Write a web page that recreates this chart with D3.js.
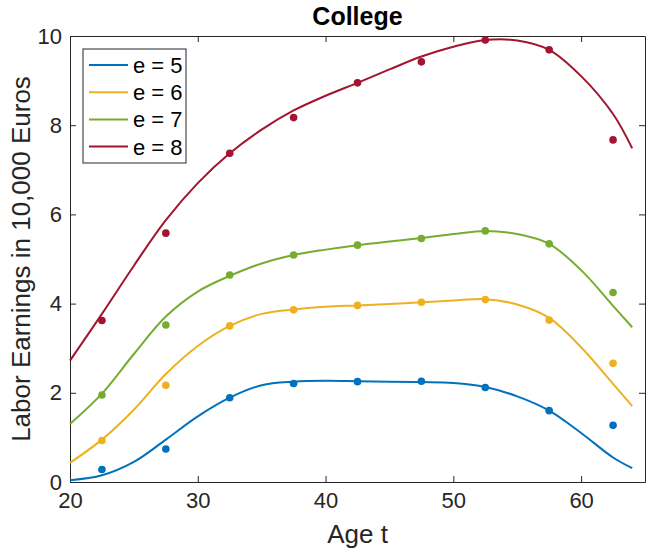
<!DOCTYPE html>
<html>
<head>
<meta charset="utf-8">
<script src="https://cdn.jsdelivr.net/npm/d3@7"></script>
<style>
  body { margin: 0; background: #fff; }
  svg { font-family: "Liberation Sans", Arial, Helvetica, sans-serif; }
</style>
</head>
<body>
<svg id="chart" width="649" height="550"></svg>
<script>
// ─── Datos ────────────────────────────────────────────────────────────────────

const SERIES = ['e = 5', 'e = 6', 'e = 7', 'e = 8'];
const COLORS = ['#0072BD', '#EDB120', '#77AC30', '#A2142F'];

// Puntos observados (edad media de cada tramo de 5 años)
const DOT_AGES = [22.5, 27.5, 32.5, 37.5, 42.5, 47.5, 52.5, 57.5, 62.5];
const DOTS_E5 = [0.28, 0.74, 1.89, 2.21, 2.25, 2.26, 2.12, 1.60, 1.27];
const DOTS_E6 = [0.93, 2.17, 3.50, 3.86, 3.96, 4.03, 4.09, 3.63, 2.66];
const DOTS_E7 = [1.95, 3.52, 4.64, 5.09, 5.31, 5.46, 5.63, 5.34, 4.25];
const DOTS_E8 = [3.62, 5.58, 7.37, 8.17, 8.95, 9.42, 9.91, 9.69, 7.67];

// Curvas ajustadas
const FIT_AGES = [20, 22.5, 25, 27.5, 30, 32.5, 35, 37.5, 40, 42.5, 45, 47.5, 50, 52.5, 55, 57.5, 60, 62.5, 64];
const FIT_E5 = [0.04, 0.15, 0.45, 0.95, 1.47, 1.89, 2.17, 2.25, 2.27, 2.26, 2.25, 2.24, 2.22, 2.13, 1.92, 1.60, 1.10, 0.55, 0.31];
const FIT_E6 = [0.43, 0.95, 1.62, 2.42, 3.05, 3.50, 3.77, 3.87, 3.93, 3.96, 3.99, 4.03, 4.07, 4.10, 3.98, 3.68, 3.02, 2.20, 1.70];
const FIT_E7 = [1.30, 1.98, 2.87, 3.71, 4.27, 4.62, 4.90, 5.09, 5.21, 5.31, 5.39, 5.47, 5.56, 5.63, 5.56, 5.34, 4.75, 3.95, 3.47];
const FIT_E8 = [2.72, 3.77, 4.85, 5.87, 6.70, 7.37, 7.90, 8.33, 8.66, 8.95, 9.25, 9.54, 9.76, 9.91, 9.90, 9.69, 9.10, 8.25, 7.48];

const X_TICKS = [20, 30, 40, 50, 60];
const Y_TICKS = [0, 2, 4, 6, 8, 10];

const DOTS = [DOTS_E5, DOTS_E6, DOTS_E7, DOTS_E8];
const FITS = [FIT_E5, FIT_E6, FIT_E7, FIT_E8];

// ─── Escalas ──────────────────────────────────────────────────────────────────

const svg = d3.select('#chart');
const M = { left: 70, right: 645, top: 36, bottom: 482 };
const AXIS = '#262626';

const x = d3.scaleLinear().domain([20, 65]).range([M.left, M.right]);
const y = d3.scaleLinear().domain([0, 10]).range([M.bottom, M.top]);

// ─── Ejes (caja estilo MATLAB, ticks hacia dentro) ────────────────────────────

const TICK = 6;

svg.append('g')
  .attr('transform', `translate(0,${M.bottom})`)
  .call(d3.axisBottom(x).tickValues(X_TICKS).tickSize(-TICK).tickPadding(10).tickSizeOuter(0))
  .call(g => g.selectAll('text').attr('font-size', 22).attr('fill', AXIS));

svg.append('g')
  .attr('transform', `translate(0,${M.top})`)
  .call(d3.axisTop(x).tickValues(X_TICKS).tickSize(-TICK).tickFormat('').tickSizeOuter(0));

svg.append('g')
  .attr('transform', `translate(${M.left},0)`)
  .call(d3.axisLeft(y).tickValues(Y_TICKS).tickSize(-TICK).tickPadding(8).tickSizeOuter(0))
  .call(g => g.selectAll('text').attr('font-size', 22).attr('fill', AXIS));

svg.append('g')
  .attr('transform', `translate(${M.right},0)`)
  .call(d3.axisRight(y).tickValues(Y_TICKS).tickSize(-TICK).tickFormat('').tickSizeOuter(0));

svg.selectAll('.domain').attr('stroke', AXIS).attr('stroke-width', 1);
svg.selectAll('.tick line').attr('stroke', AXIS).attr('stroke-width', 1);

// ─── Curvas y puntos ──────────────────────────────────────────────────────────

const line = d3.line()
  .x(d => x(d[0]))
  .y(d => y(d[1]))
  .curve(d3.curveCatmullRom.alpha(0.5));

FITS.forEach((fit, i) => {
  svg.append('path')
    .datum(FIT_AGES.map((a, k) => [a, fit[k]]))
    .attr('fill', 'none')
    .attr('stroke', COLORS[i])
    .attr('stroke-width', 2)
    .attr('d', line);
});

DOTS.forEach((vals, i) => {
  svg.append('g')
    .selectAll('circle')
    .data(DOT_AGES.map((a, k) => [a, vals[k]]))
    .join('circle')
    .attr('cx', d => x(d[0]))
    .attr('cy', d => y(d[1]))
    .attr('r', 3.8)
    .attr('fill', COLORS[i]);
});

// ─── Textos ───────────────────────────────────────────────────────────────────

svg.append('text')
  .attr('x', (M.left + M.right) / 2).attr('y', 25)
  .attr('text-anchor', 'middle')
  .attr('font-size', 25).attr('font-weight', 'bold')
  .attr('fill', '#000')
  .text('College');

svg.append('text')
  .attr('x', (M.left + M.right) / 2).attr('y', 543)
  .attr('text-anchor', 'middle')
  .attr('font-size', 26).attr('fill', AXIS)
  .text('Age t');

svg.append('text')
  .attr('transform', `translate(30,${(M.top + M.bottom) / 2}) rotate(-90)`)
  .attr('text-anchor', 'middle')
  .attr('font-size', 26).attr('fill', AXIS)
  .text('Labor Earnings in 10,000 Euros');

// ─── Leyenda ──────────────────────────────────────────────────────────────────

const legend = svg.append('g').attr('transform', 'translate(83,49)');
legend.append('rect')
  .attr('width', 103).attr('height', 114)
  .attr('fill', '#fff').attr('stroke', AXIS).attr('stroke-width', 1);

SERIES.forEach((name, i) => {
  const ly = 16 + i * 27.2;
  legend.append('line')
    .attr('x1', 6).attr('x2', 45)
    .attr('y1', ly).attr('y2', ly)
    .attr('stroke', COLORS[i]).attr('stroke-width', 2);
  legend.append('text')
    .attr('x', 50).attr('y', ly + 8)
    .attr('font-size', 22).attr('fill', '#000')
    .text(name);
});
</script>
</body>
</html>
